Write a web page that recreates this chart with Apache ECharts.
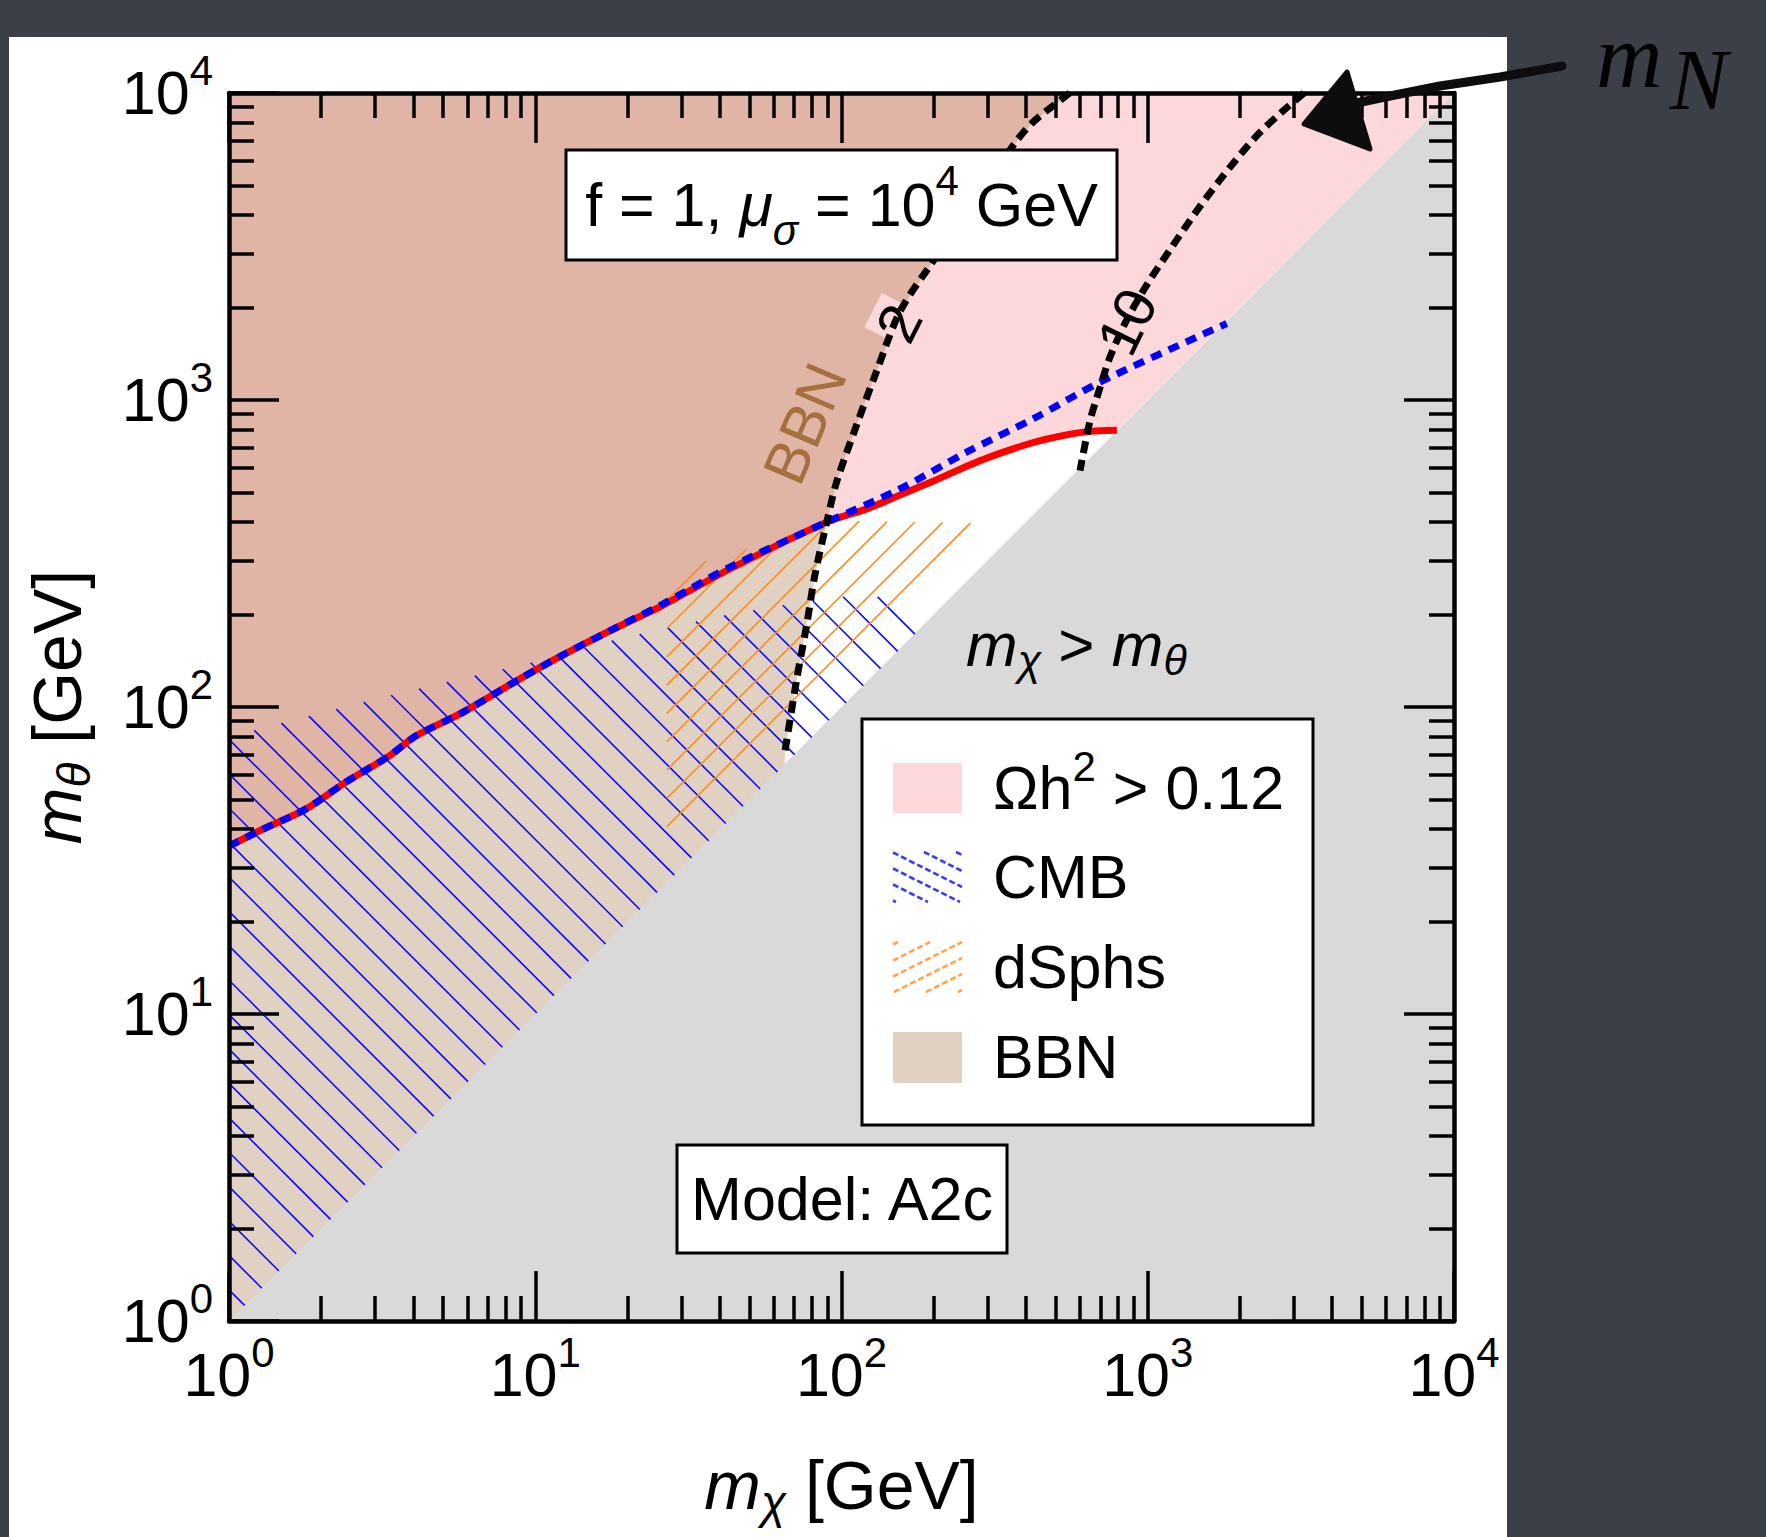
<!DOCTYPE html>
<html>
<head>
<meta charset="utf-8">
<script src="https://cdn.jsdelivr.net/npm/echarts@6.0.0/dist/echarts.min.js"></script>
<style>
html, body { margin:0; padding:0; width:1766px; height:1537px; overflow:hidden; background:#3a3f48; }
#paper { position:absolute; left:9px; top:37px; width:1498px; height:1500px; background:#ffffff; }
#chart { position:absolute; left:0; top:0; width:1766px; height:1537px; }
</style>
</head>
<body>
<div id="paper"></div>
<div id="chart"></div>
<script>
// ---------------- data (m_chi [GeV], m_theta [GeV]) ----------------
const majorTicks = [1, 10, 100, 1000, 10000];
const minorTicks = [2,3,4,5,6,7,8,9, 20,30,40,50,60,70,80,90, 200,300,400,500,600,700,800,900, 2000,3000,4000,5000,6000,7000,8000,9000];

// relic density boundary Omega h^2 = 0.12 (red solid)
const relicLine = [[1,35.2],[1.25,39.4],[1.78,46.5],[2.40,56.8],[3.33,69.2],[4.07,80.4],[5.78,95.9],[8.85,123],[12.2,147],[17.9,179],[26.0,214],[43.0,281],[89.5,400],[121,442],[155,490],[200,545],[290,640],[423,727],[543,770],[617,786],[700,794],[793,797]];
// CMB boundary (blue dashed)
const cmbLine = [[1,35.2],[1.25,39.4],[1.78,46.5],[2.40,56.8],[3.33,69.2],[4.07,80.4],[5.78,95.9],[8.85,123],[12.2,147],[17.9,179],[26.0,216],[43.0,285],[89.5,400],[155,513],[256,676],[423,869],[698,1143],[1483,1622],[1811,1774]];
// m_N / m_chi contours (black dotted)
const contour2 = [[557,10000],[423,8054],[364,6761],[195,2748],[155,1936],[130,1236],[112,828],[96.4,541],[89.5,400],[81.8,268],[76.9,184],[71.4,123],[65.3,71.1]];
const contour10 = [[3236,10000],[2754,8710],[2291,7328],[1862,5754],[1479,4266],[1202,3162],[1000,2399],[853,1820],[753,1380],[698,1096],[647,851],[601,589]];
// hatched exclusion regions
const cmbRegion = [[1,1],[1,78.7],[1.24,84.7],[3.48,110],[9.84,140],[18.8,167],[43.6,201],[67.1,216],[106,230],[139,228],[178,177]];
const dsphRegion = [[26.9,33.1],[26.9,225],[35.8,298],[48.4,326],[67.9,366],[114,403],[263,398],[283,349]];
// label anchors
const contourLabelText = ['2', '10'];
const contourLabelPos = [[154,1778],[853,1800]];
const bbnLabelPos = [76, 838];
const plotMin = 1, plotMax = 10000;

// ---------------- helpers ----------------
const FONT = '"Liberation Sans", Arial, Helvetica, sans-serif';
const SERIF = '"Liberation Serif", "Times New Roman", serif';
const COL = { pink:'#fdd8da', brown:'#e0b5a5', beige:'#e0d1c2', gray:'#d9d9d9' };

function hatchSegments(poly, slope, spacing, anchor) {
  const cs = poly.map(p => p[1] - slope * p[0]);
  const cmin = Math.min.apply(null, cs), cmax = Math.max.apply(null, cs);
  const c0 = anchor[1] - slope * anchor[0] + 0.5;
  const k0 = Math.ceil((cmin - c0) / spacing), k1 = Math.floor((cmax - c0) / spacing);
  const segs = [];
  for (let k = k0; k <= k1; k++) {
    const c = c0 + k * spacing;
    const xs = [];
    for (let i = 0; i < poly.length; i++) {
      const a = poly[i], b = poly[(i + 1) % poly.length];
      const fa = a[1] - slope * a[0] - c, fb = b[1] - slope * b[0] - c;
      if ((fa < 0) !== (fb < 0)) {
        const t = fa / (fa - fb);
        xs.push(a[0] + t * (b[0] - a[0]));
      }
    }
    xs.sort((u, v) => u - v);
    for (let j = 0; j + 1 < xs.length; j += 2) {
      segs.push([xs[j], slope * xs[j] + c, xs[j + 1], slope * xs[j + 1] + c]);
    }
  }
  return segs;
}
function segLines(segs, style) {
  return segs.map(s => ({ type:'line', shape:{x1:s[0], y1:s[1], x2:s[2], y2:s[3]}, style: style }));
}

function polygonSeries(pointsFn, fill) {
  return {
    type:'custom', coordinateSystem:'cartesian2d', xAxisIndex:0, yAxisIndex:0,
    data:[[1,1]], silent:true, animation:false, clip:true,
    renderItem: (params, api) => ({
      type:'polygon', shape:{ points: pointsFn().map(p => api.coord(p)) }, style:{ fill: fill }
    })
  };
}
function hatchSeries(region, anchor, slope, spacing, color) {
  return {
    type:'custom', coordinateSystem:'cartesian2d', xAxisIndex:0, yAxisIndex:0,
    data:[[1,1]], silent:true, animation:false, clip:true,
    renderItem: (params, api) => {
      const poly = region.map(p => api.coord(p));
      const a = api.coord(anchor);
      return { type:'group', children: segLines(hatchSegments(poly, slope, spacing, a), { stroke: color, lineWidth: 1.6 }) };
    }
  };
}

// polygons built from the curves
const crossIdxC2 = contour2.findIndex(p => p[0] === 89.5 && p[1] === 400);
const crossIdxRelic = relicLine.findIndex(p => p[0] === 89.5 && p[1] === 400);
const pinkPoly = () => relicLine.concat([[plotMax, plotMax], [plotMin, plotMax]]);
const bbnPoly = () => [[plotMin, plotMin], [plotMin, plotMax]].concat(contour2, [[contour2[contour2.length - 1][0], plotMin]]);
const brownPoly = () => [[plotMin, plotMax]].concat(contour2.slice(0, crossIdxC2 + 1), relicLine.slice(0, crossIdxRelic).reverse());
const grayPoly = () => [[plotMin, plotMin], [plotMax, plotMax], [plotMax, plotMin]];

// ---------------- axes ----------------
const lineSt = { color:'#000', width:4.5 };
const tickSt = { color:'#000', width:3.5 };
const powRich = {
  b: { fontFamily: FONT, fontSize: 61, lineHeight: 88, color:'#000' },
  s: { fontFamily: FONT, fontSize: 42, lineHeight: 42, verticalAlign:'top', color:'#000' }
};
const fmtPow = v => '{b|10}{s|' + Math.round(Math.log10(v)) + '}';
const titleRich = {
  i: { fontFamily: FONT, fontStyle:'italic', fontSize: 68, lineHeight: 80, color:'#000' },
  s: { fontFamily: FONT, fontStyle:'italic', fontSize: 46, lineHeight: 46, verticalAlign:'bottom', color:'#000' },
  n: { fontFamily: FONT, fontSize: 68, lineHeight: 80, color:'#000' }
};
function axis(pos, main, extra) {
  return Object.assign({
    type:'log', logBase:10, min:plotMin, max:plotMax, position:pos, z:10, gridIndex:0,
    splitLine:{show:false}, minorTick:{show:false}, minorSplitLine:{show:false},
    axisLine:{ show: main, onZero:false, lineStyle: lineSt },
    axisTick: main ? { show:true, inside:true, length:50, lineStyle: tickSt }
                   : { show:true, inside:true, length:25, customValues: minorTicks, lineStyle: tickSt },
    axisLabel:{ show:false },
    axisPointer:{ show:false }, silent:true
  }, extra || {});
}

const xAxes = [
  axis('bottom', true, {
    axisLabel:{ show:true, margin:10, formatter: fmtPow, rich: powRich, showMinLabel:true, showMaxLabel:true },
    name:'{i|m}{s|χ}{n| [GeV]}', nameLocation:'middle', nameGap:124, nameMoveOverlap:false,
    nameTextStyle:{ rich: titleRich }
  }),
  axis('bottom', false),
  axis('top', true),
  axis('top', false)
];
const yAxes = [
  axis('left', true, {
    axisLabel:{ show:true, margin:16, formatter: fmtPow, rich: powRich, showMinLabel:true, showMaxLabel:true },
    name:'{i|m}{s|θ}{n| [GeV]}', nameLocation:'middle', nameGap:132, nameRotate:90, nameMoveOverlap:false,
    nameTextStyle:{ rich: titleRich }
  }),
  axis('left', false),
  axis('right', true),
  axis('right', false)
];

// ---------------- series ----------------
const series = [
  polygonSeries(pinkPoly, COL.pink),
  polygonSeries(bbnPoly, COL.beige),
  polygonSeries(brownPoly, COL.brown),
  polygonSeries(grayPoly, COL.gray),
  hatchSeries(cmbRegion, cmbRegion[1], 1, 34.4, '#0a0aff'),
  hatchSeries(dsphRegion, dsphRegion[0], -1, 28.3, '#ff8c1a'),
  { type:'line', data: relicLine, showSymbol:false, symbol:'none', smooth:0.3, silent:true, animation:false,
    lineStyle:{ color:'#ff0000', width:7 } },
  { type:'line', data: cmbLine, showSymbol:false, symbol:'none', smooth:0.3, silent:true, animation:false,
    lineStyle:{ color:'#0000ff', width:7, type:[11,8], cap:'butt' } },
  { type:'line', data: contour2, showSymbol:false, symbol:'none', smooth:0.3, silent:true, animation:false,
    lineStyle:{ color:'#000', width:7, type:[12,7], cap:'butt' } },
  { type:'line', data: contour10, showSymbol:false, symbol:'none', smooth:0.3, silent:true, animation:false,
    lineStyle:{ color:'#000', width:7, type:[12,7], cap:'butt' } },
  {
    type:'custom', coordinateSystem:'cartesian2d', xAxisIndex:0, yAxisIndex:0,
    data:[[1,1]], silent:true, animation:false, clip:false,
    renderItem: (params, api) => {
      const angles = [63, 64];
      const children = contourLabelText.map((t, i) => {
        const p = api.coord(contourLabelPos[i]);
        return { type:'text', x:p[0], y:p[1], rotation: angles[i] * Math.PI / 180,
          style:{ text:t, font:'58px ' + FONT, fill:'#000', align:'center', verticalAlign:'middle',
                  backgroundColor: COL.pink, padding:[0, 3] } };
      });
      const bp = api.coord(bbnLabelPos);
      children.push({ type:'text', x:bp[0], y:bp[1], rotation: 67 * Math.PI / 180,
        style:{ text:'BBN', font:'60px ' + FONT, fill:'#a5703d', align:'center', verticalAlign:'middle' } });
      return { type:'group', children: children };
    }
  }
];

// ---------------- annotations (boxes, legend) ----------------
const boxStyle = { fill:'#fff', stroke:'#000', lineWidth:3 };
const txt61 = { fontFamily: FONT, fontSize: 61, lineHeight: 92, color:'#000' };
const legendRows = [
  { label:'{n|Ωh}{p|2}{n| > 0.12}', y:788 },
  { label:'{n|CMB}', y:877 },
  { label:'{n|dSphs}', y:967 },
  { label:'{n|BBN}', y:1057 }
];
const legendRich = {
  n: { fontFamily: FONT, fontSize: 61, lineHeight: 86, color:'#000' },
  p: { fontFamily: FONT, fontSize: 42, lineHeight: 42, verticalAlign:'top', color:'#000' }
};
function swatchRect(y) { return [[893, y], [962, y], [962, y + 50], [893, y + 50]]; }

const graphics = [
  { type:'rect', z:100, shape:{ x:566, y:150, width:551, height:110 }, style: boxStyle },
  { type:'text', z:101, x:841.5, y:205, style:{
      text:'{n|f = 1, }{i|μ}{sub|σ}{n| = 10}{sup|4}{n| GeV}', align:'center', verticalAlign:'middle',
      rich:{ n: txt61,
             i: Object.assign({}, txt61, { fontStyle:'italic' }),
             sub:{ fontFamily: FONT, fontStyle:'italic', fontSize: 42, lineHeight: 42, verticalAlign:'bottom', color:'#000' },
             sup:{ fontFamily: FONT, fontSize: 42, lineHeight: 42, verticalAlign:'top', color:'#000' } } } },
  { type:'rect', z:100, shape:{ x:677, y:1145, width:330, height:108 }, style: boxStyle },
  { type:'text', z:101, x:842, y:1199, style:{ text:'Model: A2c', font:'61px ' + FONT, fill:'#000', align:'center', verticalAlign:'middle' } },
  { type:'text', z:101, x:966, y:644, style:{
      text:'{i|m}{s|χ}{n| > }{i|m}{s|θ}', align:'left', verticalAlign:'middle',
      rich:{ i:{ fontFamily: FONT, fontStyle:'italic', fontSize: 62, lineHeight: 74, color:'#000' },
             n:{ fontFamily: FONT, fontSize: 62, lineHeight: 74, color:'#000' },
             s:{ fontFamily: FONT, fontStyle:'italic', fontSize: 43, lineHeight: 43, verticalAlign:'bottom', color:'#000' } } } },
  // legend
  { type:'rect', z:100, shape:{ x:862, y:719, width:451, height:406 }, style: boxStyle },
  { type:'rect', z:101, shape:{ x:893, y:763, width:69, height:50 }, style:{ fill: COL.pink } },
  { type:'group', z:101, children: segLines(hatchSegments(swatchRect(852), 0.5, 16, [893, 852]),
      { stroke:'#3a3aff', lineWidth:2.6, lineDash:[6,3] }).map(e => Object.assign(e, { z:101 })) },
  { type:'group', z:101, children: segLines(hatchSegments(swatchRect(942), -0.5, 16, [893, 992]),
      { stroke:'#ffa54a', lineWidth:2.6, lineDash:[6,3] }).map(e => Object.assign(e, { z:101 })) },
  { type:'rect', z:101, shape:{ x:893, y:1032, width:69, height:51 }, style:{ fill: COL.beige } }
].concat(legendRows.map(r => ({ type:'text', z:101, x:993, y:r.y,
  style:{ text:r.label, align:'left', verticalAlign:'middle', rich: legendRich } })))
.concat([
  // hand-drawn m_N annotation
  { type:'polyline', z:110, shape:{ points:[[1562,66],[1500,77],[1440,86],[1390,96],[1352,104]] },
    style:{ stroke:'#0d0d0d', lineWidth:9, fill:null, lineCap:'round', lineJoin:'round' } },
  { type:'polygon', z:110, shape:{ points:[[1347,72],[1304,124],[1370,149]] },
    style:{ fill:'#0d0d0d', stroke:'#0d0d0d', lineWidth:5, lineJoin:'round' } },
  { type:'text', z:110, x:1596, y:56, style:{ text:'m', font:'italic 92px ' + SERIF, lineHeight:92, fill:'#000', align:'left', verticalAlign:'middle' } },
  { type:'text', z:110, x:1670, y:80, style:{ text:'N', font:'italic 86px ' + SERIF, lineHeight:86, fill:'#000', align:'left', verticalAlign:'middle' } }
]);

const chart = echarts.init(document.getElementById('chart'), null, { renderer:'svg', width:1766, height:1537 });
chart.setOption({
  backgroundColor:'transparent',
  animation:false,
  textStyle:{ fontFamily: FONT },
  grid:{ left:229, top:93, width:1225, height:1228, containLabel:false, outerBoundsMode:'none' },
  xAxis: xAxes,
  yAxis: yAxes,
  series: series,
  graphic: { elements: graphics }
});
</script>
</body>
</html>
